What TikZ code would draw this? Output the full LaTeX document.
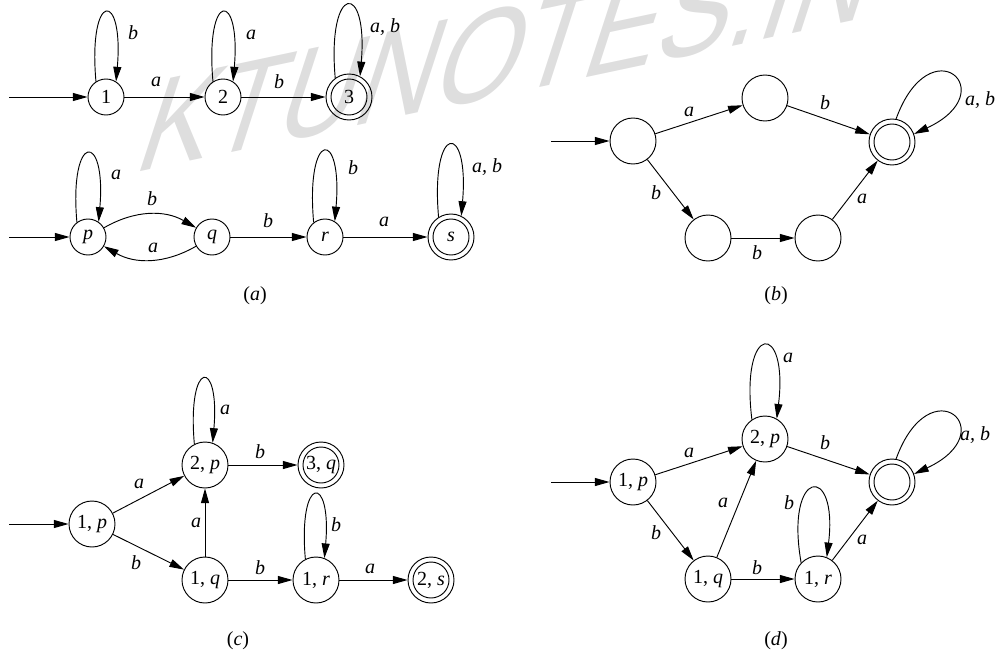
\documentclass[tikz,border=0pt]{standalone}
\usepackage{fontspec}
\usepackage{graphicx}
\setmainfont{Liberation Serif}
\newfontfamily\wmfont{Liberation Sans}
\usetikzlibrary{arrows.meta}
\begin{document}
\begin{tikzpicture}[x=0.75pt,y=0.75pt,
  every node/.style={font=\fontsize{15}{18}\selectfont},
  st/.style={draw, circle, line width=0.7pt, minimum size=27pt, inner sep=0pt},
  stb/.style={draw, circle, line width=0.7pt, minimum size=34.5pt, inner sep=0pt},
  acc/.style={draw, circle, line width=0.7pt, minimum size=34.5pt, inner sep=0pt,
    path picture={\draw[line width=0.7pt] (path picture bounding box.center) circle[radius=13.5pt];}},
  edge/.style={line width=0.7pt, -{Triangle[length=11pt,width=6pt]}},
  lbl/.style={font=\fontsize{15}{18}\selectfont\itshape, inner sep=0pt},
  wm/.style={anchor=base west, transform shape, inner sep=0pt, text=black!13,
    font=\wmfont\fontsize{100}{100}\selectfont},
]
\useasboundingbox (0,0) rectangle (995,-650);

% watermark
\begin{scope}[shift={(131,-174)}, cm={0.815,0.173,0.331,1.018,(0,0)}]
\node[wm] (wmark) at (0,0) {KTUNOTES.IN};
\end{scope}

% ---------- (a) top row
\node[st] (n1) at (106,-97) {1};
\node[st] (n2) at (223,-97) {2};
\node[acc] (n3) at (349,-97) {3};
\coordinate (i1) at (9,-97);
\draw[edge] (i1) -- (n1);
\draw[edge] (n1) -- (n2) node[lbl] (la1) at (156,-82) {a};
\draw[edge] (n2) -- (n3) node[lbl] (la2) at (279,-82) {b};
\draw[edge] (n1.123) to[out=95,in=85,distance=69pt] (n1.57) node[lbl] (la3) at (133,-33) {b};
\draw[edge] (n2.123) to[out=95,in=85,distance=69pt] (n2.57) node[lbl] (la4) at (251,-35) {a};
\draw[edge] (n3.126) to[out=95,in=85,distance=72pt] (n3.62) node[lbl] (la5) at (385,-27) {a, b};

% ---------- (a) bottom row
\node[st] (p) at (88,-237) {\textit{p}};
\node[st] (q) at (212,-237) {\textit{q}};
\node[st] (r) at (325,-237) {\textit{r}};
\node[acc] (s) at (451,-237) {\textit{s}};
\coordinate (i2) at (9,-237);
\draw[edge] (i2) -- (p);
\draw[edge] (p) to[bend left=30] (q) node[lbl] (lb1) at (152,-199) {b};
\draw[edge] (q) to[bend left=30] (p) node[lbl] (lb2) at (153,-248) {a};
\draw[edge] (q) -- (r) node[lbl] (lb3) at (268,-221) {b};
\draw[edge] (r) -- (s) node[lbl] (lb4) at (384,-222) {a};
\draw[edge] (p.127) to[out=95,in=85,distance=68.5pt] (p.55) node[lbl] (lb5) at (116,-175) {a};
\draw[edge] (r.128) to[out=95,in=85,distance=70.5pt] (r.58) node[lbl] (lb6) at (353,-168) {b};
\draw[edge] (s.122) to[out=95,in=85,distance=71.5pt] (s.64) node[lbl] (lb7) at (487,-167) {a, b};
\node (capa) at (255,-296) {(\textit{a})};

% ---------- (b)
\node[stb] (bA) at (633,-141) {};
\node[stb] (bB) at (765,-98) {};
\node[acc] (bC) at (892,-142) {};
\node[stb] (bD) at (708,-238) {};
\node[stb] (bE) at (818,-238) {};
\coordinate (i3) at (551,-141);
\draw[edge] (i3) -- (bA);
\draw[edge] (bA) -- (bB) node[lbl] (lc1) at (689,-112) {a};
\draw[edge] (bB) -- (bC) node[lbl] (lc2) at (825,-103) {b};
\draw[edge] (bA) -- (bD) node[lbl] (lc3) at (656,-193) {b};
\draw[edge] (bD) -- (bE) node[lbl] (lc4) at (757,-253) {b};
\draw[edge] (bE) -- (bC) node[lbl] (lc5) at (862,-199) {a};
\draw[edge] (bC.80) to[out=70,in=25,distance=75pt] (bC.20) node[lbl] (lc6) at (980,-100) {a, b};
\node (capb) at (776,-296) {(\textit{b})};

% ---------- (c)
\node[stb] (cP1) at (92,-524) {1, \textit{p}};
\node[stb] (cP2) at (205,-465) {2, \textit{p}};
\node[acc] (cQ3) at (321,-465) {3, \textit{q}};
\node[stb] (cQ1) at (205,-580) {1, \textit{q}};
\node[stb] (cR1) at (316,-580) {1, \textit{r}};
\node[acc] (cS2) at (431,-580) {2, \textit{s}};
\coordinate (i4) at (9,-524);
\draw[edge] (i4) -- (cP1);
\draw[edge] (cP1) -- (cP2) node[lbl] (ld1) at (139,-484) {a};
\draw[edge] (cP1) -- (cQ1) node[lbl] (ld2) at (136,-563) {b};
\draw[edge] (cQ1) -- (cP2) node[lbl] (ld3) at (196,-523) {a};
\draw[edge] (cP2) -- (cQ3) node[lbl] (ld4) at (260,-452) {b};
\draw[edge] (cQ1) -- (cR1) node[lbl] (ld5) at (260,-568) {b};
\draw[edge] (cR1) -- (cS2) node[lbl] (ld6) at (370,-569) {a};
\draw[edge] (cP2.117) to[out=95,in=85,distance=64.5pt] (cP2.71) node[lbl] (ld7) at (225,-410) {a};
\draw[edge] (cR1.117) to[out=95,in=85,distance=64pt] (cR1.69) node[lbl] (ld8) at (336,-525) {b};
\node (capc) at (238,-641) {(\textit{c})};

% ---------- (d)
\node[stb] (dP1) at (633,-482) {1, \textit{p}};
\node[stb] (dP2) at (765,-439) {2, \textit{p}};
\node[acc] (dC) at (892,-482) {};
\node[stb] (dQ1) at (708,-579) {1, \textit{q}};
\node[stb] (dR1) at (818,-579) {1, \textit{r}};
\coordinate (i5) at (551,-482);
\draw[edge] (i5) -- (dP1);
\draw[edge] (dP1) -- (dP2) node[lbl] (le1) at (689,-453) {a};
\draw[edge] (dP2) -- (dC) node[lbl] (le2) at (825,-443) {b};
\draw[edge] (dP1) -- (dQ1) node[lbl] (le3) at (656,-533) {b};
\draw[edge] (dQ1) -- (dP2) node[lbl] (le4) at (723,-503) {a};
\draw[edge] (dQ1) -- (dR1) node[lbl] (le5) at (757,-568) {b};
\draw[edge] (dR1) -- (dC) node[lbl] (le6) at (862,-540) {a};
\draw[edge] (dP2.124) to[out=97,in=83,distance=74pt] (dP2.60) node[lbl] (le7) at (788,-358) {a};
\draw[edge] (dR1.136) to[out=100,in=83,distance=72pt] (dR1.68) node[lbl] (le8) at (789,-503) {b};
\draw[edge] (dC.80) to[out=70,in=25,distance=75pt] (dC.20) node[lbl] (le9) at (975,-435) {a, b};
\node (capd) at (776,-641) {(\textit{d})};
\end{tikzpicture}
\end{document}
